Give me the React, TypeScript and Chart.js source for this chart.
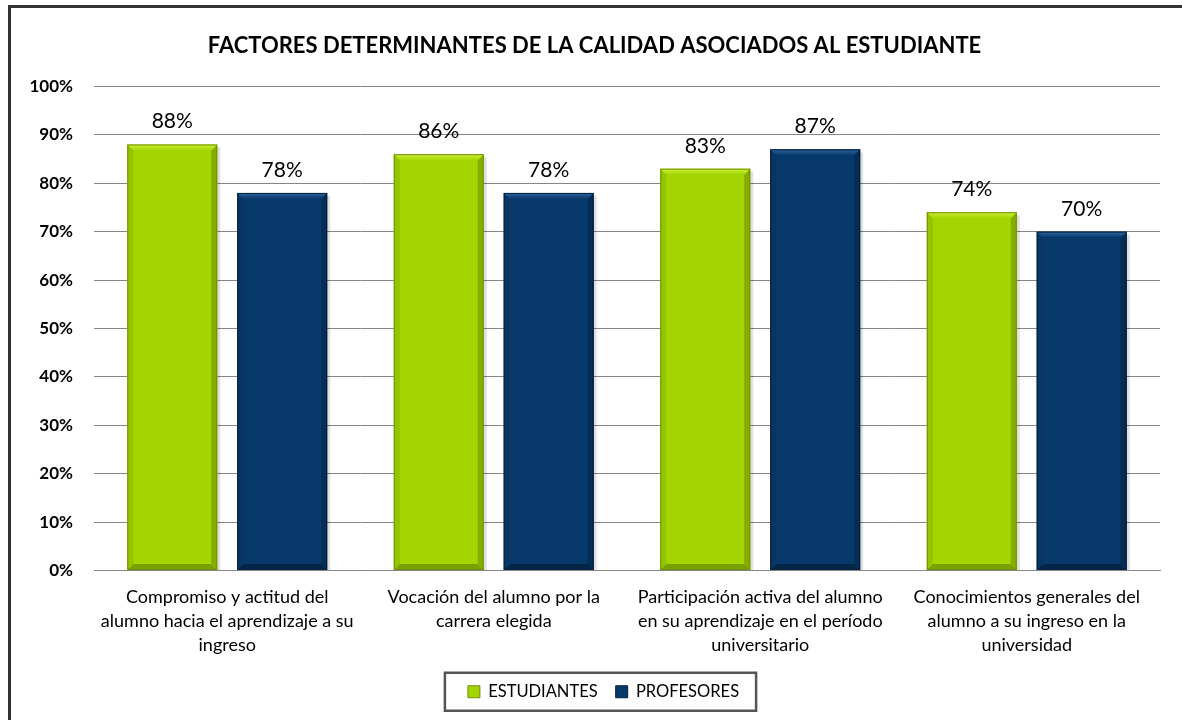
import React, { useEffect, useRef } from "react";
import { Chart, registerables } from "chart.js";

Chart.register(...registerables);

const TITLE = "FACTORES DETERMINANTES DE LA CALIDAD ASOCIADOS AL ESTUDIANTE";
const CATEGORIES: string[][] = [
  ["Compromiso y actitud del", "alumno hacia el aprendizaje a su", "ingreso"],
  ["Vocación del alumno por la", "carrera elegida"],
  ["Participación activa del alumno", "en su aprendizaje en el período", "universitario"],
  ["Conocimientos generales del", "alumno a su ingreso en la", "universidad"],
];
const SERIES_NAMES = ["ESTUDIANTES", "PROFESORES"];
const ESTUDIANTES = [88, 86, 83, 74];
const PROFESORES = [78, 78, 87, 70];
const Y_MIN = 0;
const Y_MAX = 100;
const Y_STEP = 10;

const FONT = 'Lato, "Open Sans", "DejaVu Sans", sans-serif';

const PALETTE = [
  { base: "#a3d600", light: "#cdf23c", left: "#95c400", dark: "#84ad00", bottom: "#7a9f00", edge: "#6f8f0a" },
  { base: "#07396b", light: "#2f679f", left: "#0a3461", dark: "#052c55", bottom: "#042646", edge: "#03203d" },
];

const W = 1182;
const H = 720;
const LEGEND_SHIFT = 9;

const framePlugin = {
  id: "frame",
  beforeDraw(chart: any) {
    const ctx = chart.ctx;
    ctx.save();
    ctx.fillStyle = "#ffffff";
    ctx.fillRect(0, 0, chart.width, chart.height);
    ctx.fillStyle = "#333333";
    ctx.fillRect(8, 5, chart.width - 8, 3);
    ctx.fillRect(8, 5, 3, chart.height - 5);
    ctx.restore();
  },
};

const bevelPlugin = {
  id: "bevel",
  afterDatasetsDraw(chart: any) {
    const ctx = chart.ctx;
    ctx.save();
    chart.data.datasets.forEach((ds: any, di: number) => {
      const meta = chart.getDatasetMeta(di);
      const p = PALETTE[di];
      meta.data.forEach((el: any, i: number) => {
        const L = el.x - el.width / 2;
        const R = el.x + el.width / 2;
        const T = el.y;
        const B = el.base;
        const b = 6;
        const poly = (pts: number[][], color: any) => {
          ctx.beginPath();
          ctx.moveTo(pts[0][0], pts[0][1]);
          for (let k = 1; k < pts.length; k++) ctx.lineTo(pts[k][0], pts[k][1]);
          ctx.closePath();
          ctx.fillStyle = color;
          ctx.fill();
        };
        ctx.fillStyle = "rgba(0,0,0,0.12)";
        ctx.fillRect(R, T + 3, 3, B - T - 3);
        poly([[L, B], [R, B], [R - b, B - b], [L + b, B - b]], p.bottom);
        poly([[R, T], [R - b, T + b], [R - b, B - b], [R, B]], p.dark);
        poly([[L, T], [L + b, T + b], [L + b, B - b], [L, B]], p.left);
        const g = ctx.createLinearGradient(0, T, 0, T + b);
        g.addColorStop(0, p.light);
        g.addColorStop(1, p.base);
        poly([[L, T], [R, T], [R - b, T + b], [L + b, T + b]], g);
        ctx.strokeStyle = p.edge;
        ctx.lineWidth = 1;
        ctx.strokeRect(L + 0.5, T + 0.5, R - L - 1, B - T - 1);
        ctx.fillStyle = "#000000";
        ctx.font = `21px ${FONT}`;
        ctx.textAlign = "center";
        ctx.textBaseline = "alphabetic";
        ctx.fillText(`${ds.data[i]}%`, el.x, T - 16);
      });
    });
    ctx.restore();
  },
};

const legendBoxPlugin = {
  id: "legendBox",
  afterLayout(chart: any) {
    const lg = chart.legend;
    if (lg) {
      lg.left += LEGEND_SHIFT;
      lg.right += LEGEND_SHIFT;
    }
  },
  afterDraw(chart: any) {
    const lg = chart.legend;
    if (!lg || !lg.legendHitBoxes || !lg.legendHitBoxes.length) return;
    const boxes = lg.legendHitBoxes;
    const minL = Math.min(...boxes.map((b: any) => b.left));
    const maxR = Math.max(...boxes.map((b: any) => b.left + b.width));
    const top = Math.min(...boxes.map((b: any) => b.top));
    const h = Math.max(...boxes.map((b: any) => b.height));
    const ctx = chart.ctx;
    ctx.save();
    ctx.strokeStyle = "#555555";
    ctx.lineWidth = 2.5;
    ctx.strokeRect(minL - 23, top + h / 2 - 19, maxR - minL + 40, 38);
    ctx.restore();
  },
};

export default function App() {
  const ref = useRef<HTMLCanvasElement | null>(null);

  useEffect(() => {
    if (!ref.current) return;
    const chart = new Chart(ref.current, {
      type: "bar",
      data: {
        labels: CATEGORIES,
        datasets: [
          {
            label: SERIES_NAMES[0],
            data: ESTUDIANTES,
            backgroundColor: PALETTE[0].base,
            borderWidth: 0,
            categoryPercentage: 0.825,
            barPercentage: 0.818,
          },
          {
            label: SERIES_NAMES[1],
            data: PROFESORES,
            backgroundColor: PALETTE[1].base,
            borderWidth: 0,
            categoryPercentage: 0.825,
            barPercentage: 0.818,
          },
        ],
      },
      options: {
        responsive: false,
        animation: false,
        devicePixelRatio: 1,
        layout: { padding: { left: 29, right: 22, top: 8, bottom: 10 } },
        scales: {
          x: {
            grid: { display: false, drawTicks: false },
            border: { display: true, color: "#868686", width: 1 },
            afterFit(scale: any) {
              scale.height -= 7;
            },
            ticks: {
              color: "#000000",
              padding: 15,
              maxRotation: 0,
              autoSkip: false,
              font: { family: FONT, size: 18, lineHeight: 24 / 18 },
            },
          },
          y: {
            min: Y_MIN,
            max: Y_MAX,
            grid: { color: "#868686", lineWidth: 1, drawTicks: false },
            border: { display: false },
            afterFit(scale: any) {
              scale.width = 65;
            },
            ticks: {
              stepSize: Y_STEP,
              padding: 21,
              color: "#000000",
              font: { family: FONT, size: 17, weight: "bold" },
              callback: (v: any) => `${v}%`,
            },
          },
        },
        plugins: {
          title: {
            display: true,
            text: TITLE,
            color: "#000000",
            font: { family: FONT, size: 22, weight: "bold", lineHeight: 1.2 },
            padding: { top: 25, bottom: 27 },
          },
          legend: {
            display: true,
            position: "bottom",
            labels: {
              color: "#000000",
              boxWidth: 12,
              boxHeight: 12,
              padding: 18,
              font: { family: FONT, size: 16.5 },
              generateLabels: (chart: any) =>
                chart.data.datasets.map((ds: any, i: number) => ({
                  text: ds.label,
                  fillStyle: PALETTE[i].base,
                  strokeStyle: PALETTE[i].edge,
                  lineWidth: 1,
                  datasetIndex: i,
                  hidden: false,
                  fontColor: "#000000",
                })),
            },
          },
          tooltip: { enabled: false },
        },
      },
      plugins: [framePlugin, bevelPlugin, legendBoxPlugin],
    });
    return () => chart.destroy();
  }, []);

  return (
    <div style={{ position: "fixed", left: 0, top: 0, width: W, height: H, overflow: "hidden" }}>
      <canvas ref={ref} width={W} height={H} style={{ display: "block", width: W, height: H }} />
    </div>
  );
}
